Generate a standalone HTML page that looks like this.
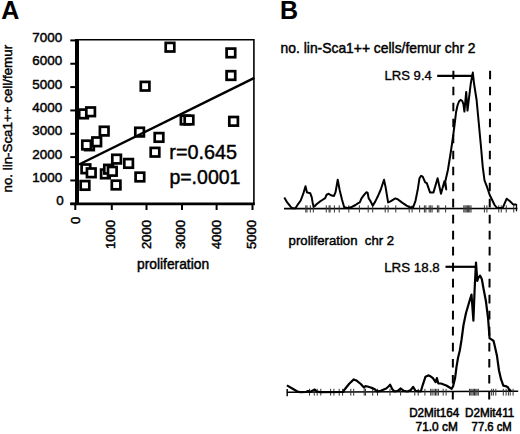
<!DOCTYPE html>
<html><head><meta charset="utf-8"><style>
html,body{margin:0;padding:0;background:#fff;}
body{width:520px;height:434px;overflow:hidden;font-family:"Liberation Sans",sans-serif;}
svg{display:block;} text{stroke:#000;stroke-width:0.45px;}
</style></head><body>
<svg width="520" height="434" viewBox="0 0 520 434">
<rect width="520" height="434" fill="#fff"/>
<text x="1.2" y="19.3" font-family="&#39;Liberation Sans&#39;, sans-serif" font-weight="bold" font-size="25" style="stroke-width:0.1px">A</text>
<text x="279.9" y="18.9" font-family="&#39;Liberation Sans&#39;, sans-serif" font-weight="bold" font-size="25" style="stroke-width:0.1px">B</text>
<line x1="75" y1="39.7" x2="254" y2="39.7" stroke="#000" stroke-width="1.4"/>
<line x1="253.9" y1="39" x2="253.9" y2="205" stroke="#000" stroke-width="1.6"/>
<line x1="77" y1="39" x2="77" y2="205" stroke="#000" stroke-width="4"/>
<line x1="70.3" y1="203.8" x2="254.7" y2="203.8" stroke="#000" stroke-width="2.7"/>
<line x1="70.3" y1="203.80" x2="76" y2="203.80" stroke="#000" stroke-width="2"/>
<line x1="70.3" y1="180.46" x2="76" y2="180.46" stroke="#000" stroke-width="2"/>
<line x1="70.3" y1="157.12" x2="76" y2="157.12" stroke="#000" stroke-width="2"/>
<line x1="70.3" y1="133.78" x2="76" y2="133.78" stroke="#000" stroke-width="2"/>
<line x1="70.3" y1="110.44" x2="76" y2="110.44" stroke="#000" stroke-width="2"/>
<line x1="70.3" y1="87.10" x2="76" y2="87.10" stroke="#000" stroke-width="2"/>
<line x1="70.3" y1="63.76" x2="76" y2="63.76" stroke="#000" stroke-width="2"/>
<line x1="70.3" y1="40.42" x2="76" y2="40.42" stroke="#000" stroke-width="2"/>
<line x1="75.3" y1="204" x2="75.3" y2="210" stroke="#000" stroke-width="2"/>
<line x1="111.8" y1="204" x2="111.8" y2="210" stroke="#000" stroke-width="2"/>
<line x1="146.5" y1="204" x2="146.5" y2="210" stroke="#000" stroke-width="2"/>
<line x1="182" y1="204" x2="182" y2="210" stroke="#000" stroke-width="2"/>
<line x1="216.6" y1="204" x2="216.6" y2="210" stroke="#000" stroke-width="2"/>
<line x1="252.5" y1="204" x2="252.5" y2="210" stroke="#000" stroke-width="2"/>
<text x="63.8" y="205.10" font-family="&#39;Liberation Sans&#39;, sans-serif" font-size="13.4" text-anchor="end">0</text>
<text x="62.1" y="181.86" font-family="&#39;Liberation Sans&#39;, sans-serif" font-size="13.4" text-anchor="end">1000</text>
<text x="62.1" y="158.52" font-family="&#39;Liberation Sans&#39;, sans-serif" font-size="13.4" text-anchor="end">2000</text>
<text x="62.1" y="135.18" font-family="&#39;Liberation Sans&#39;, sans-serif" font-size="13.4" text-anchor="end">3000</text>
<text x="62.1" y="111.84" font-family="&#39;Liberation Sans&#39;, sans-serif" font-size="13.4" text-anchor="end">4000</text>
<text x="62.1" y="88.50" font-family="&#39;Liberation Sans&#39;, sans-serif" font-size="13.4" text-anchor="end">5000</text>
<text x="62.1" y="65.16" font-family="&#39;Liberation Sans&#39;, sans-serif" font-size="13.4" text-anchor="end">6000</text>
<text x="62.1" y="41.82" font-family="&#39;Liberation Sans&#39;, sans-serif" font-size="13.4" text-anchor="end">7000</text>
<text transform="translate(80.30,216.8) rotate(-90)" font-family="&#39;Liberation Sans&#39;, sans-serif" font-size="13.1" text-anchor="end">0</text>
<text transform="translate(114.90,219.9) rotate(-90)" font-family="&#39;Liberation Sans&#39;, sans-serif" font-size="13.1" text-anchor="end">1000</text>
<text transform="translate(151.10,219.9) rotate(-90)" font-family="&#39;Liberation Sans&#39;, sans-serif" font-size="13.1" text-anchor="end">2000</text>
<text transform="translate(185.20,219.9) rotate(-90)" font-family="&#39;Liberation Sans&#39;, sans-serif" font-size="13.1" text-anchor="end">3000</text>
<text transform="translate(221.40,219.9) rotate(-90)" font-family="&#39;Liberation Sans&#39;, sans-serif" font-size="13.1" text-anchor="end">4000</text>
<text transform="translate(256.20,219.9) rotate(-90)" font-family="&#39;Liberation Sans&#39;, sans-serif" font-size="13.1" text-anchor="end">5000</text>
<text x="137" y="268.8" font-family="&#39;Liberation Sans&#39;, sans-serif" font-size="13.8">proliferation</text>
<text transform="translate(12.2,192.5) rotate(-90)" font-family="&#39;Liberation Sans&#39;, sans-serif" font-size="13.35">no. lin-Sca1++ cell/femur</text>
<rect x="165.70" y="42.90" width="8.6" height="8.6" fill="#fff" stroke="#000" stroke-width="2.7"/>
<rect x="226.60" y="48.60" width="8.6" height="8.6" fill="#fff" stroke="#000" stroke-width="2.7"/>
<rect x="226.60" y="71.20" width="8.6" height="8.6" fill="#fff" stroke="#000" stroke-width="2.7"/>
<rect x="140.80" y="81.90" width="8.6" height="8.6" fill="#fff" stroke="#000" stroke-width="2.7"/>
<rect x="79.20" y="109.60" width="8.6" height="8.6" fill="#fff" stroke="#000" stroke-width="2.7"/>
<rect x="86.30" y="107.50" width="8.6" height="8.6" fill="#fff" stroke="#000" stroke-width="2.7"/>
<rect x="180.90" y="115.70" width="8.6" height="8.6" fill="#fff" stroke="#000" stroke-width="2.7"/>
<rect x="184.70" y="115.70" width="8.6" height="8.6" fill="#fff" stroke="#000" stroke-width="2.7"/>
<rect x="229.30" y="117.00" width="8.6" height="8.6" fill="#fff" stroke="#000" stroke-width="2.7"/>
<rect x="99.90" y="126.80" width="8.6" height="8.6" fill="#fff" stroke="#000" stroke-width="2.7"/>
<rect x="135.30" y="127.80" width="8.6" height="8.6" fill="#fff" stroke="#000" stroke-width="2.7"/>
<rect x="85.20" y="141.50" width="8.6" height="8.6" fill="#fff" stroke="#000" stroke-width="2.7"/>
<rect x="82.30" y="140.70" width="8.6" height="8.6" fill="#fff" stroke="#000" stroke-width="2.7"/>
<rect x="92.40" y="137.50" width="8.6" height="8.6" fill="#fff" stroke="#000" stroke-width="2.7"/>
<rect x="154.70" y="133.10" width="8.6" height="8.6" fill="#fff" stroke="#000" stroke-width="2.7"/>
<rect x="150.70" y="147.90" width="8.6" height="8.6" fill="#fff" stroke="#000" stroke-width="2.7"/>
<rect x="112.30" y="154.80" width="8.6" height="8.6" fill="#fff" stroke="#000" stroke-width="2.7"/>
<rect x="124.30" y="159.10" width="8.6" height="8.6" fill="#fff" stroke="#000" stroke-width="2.7"/>
<rect x="81.60" y="164.50" width="8.6" height="8.6" fill="#fff" stroke="#000" stroke-width="2.7"/>
<rect x="86.95" y="168.50" width="8.6" height="8.6" fill="#fff" stroke="#000" stroke-width="2.7"/>
<rect x="101.10" y="169.60" width="8.6" height="8.6" fill="#fff" stroke="#000" stroke-width="2.7"/>
<rect x="104.30" y="164.90" width="8.6" height="8.6" fill="#fff" stroke="#000" stroke-width="2.7"/>
<rect x="108.00" y="167.00" width="8.6" height="8.6" fill="#fff" stroke="#000" stroke-width="2.7"/>
<rect x="135.60" y="172.70" width="8.6" height="8.6" fill="#fff" stroke="#000" stroke-width="2.7"/>
<rect x="80.70" y="181.10" width="8.6" height="8.6" fill="#fff" stroke="#000" stroke-width="2.7"/>
<rect x="111.80" y="180.70" width="8.6" height="8.6" fill="#fff" stroke="#000" stroke-width="2.7"/>
<line x1="79" y1="164.5" x2="254.4" y2="77.8" stroke="#000" stroke-width="2.5"/>
<text x="169.3" y="159.2" font-family="&#39;Liberation Sans&#39;, sans-serif" font-size="19.8">r=0.645</text>
<text x="169.4" y="183.5" font-family="&#39;Liberation Sans&#39;, sans-serif" font-size="19.5">p=.0001</text>
<text x="280.6" y="52.7" font-family="&#39;Liberation Sans&#39;, sans-serif" font-size="14.2" textLength="195" lengthAdjust="spacingAndGlyphs">no. lin-Sca1++ cells/femur chr 2</text>
<text x="288.6" y="245" font-family="&#39;Liberation Sans&#39;, sans-serif" font-size="13.2" xml:space="preserve">proliferation  chr 2</text>
<text x="384.5" y="80.2" font-family="&#39;Liberation Sans&#39;, sans-serif" font-size="13.1" textLength="47.3" lengthAdjust="spacingAndGlyphs" style="stroke-width:0.35px">LRS 9.4</text>
<text x="384.2" y="272.2" font-family="&#39;Liberation Sans&#39;, sans-serif" font-size="13.3" textLength="55.6" lengthAdjust="spacingAndGlyphs" style="stroke-width:0.35px">LRS 18.8</text>
<line x1="437.2" y1="75.9" x2="472.6" y2="75.9" stroke="#000" stroke-width="2.2"/>
<line x1="445.5" y1="266.8" x2="476" y2="266.8" stroke="#000" stroke-width="2.2"/>
<line x1="453.4" y1="70.7" x2="452.8" y2="402" stroke="#000" stroke-width="2" stroke-dasharray="8.6 7.41"/>
<line x1="490.1" y1="70.7" x2="489.2" y2="402" stroke="#000" stroke-width="2" stroke-dasharray="8.6 7.41"/>
<line x1="284" y1="208.6" x2="517.4" y2="208.5" stroke="#000" stroke-width="1.6"/>
<line x1="286.8" y1="392.3" x2="518.2" y2="391.2" stroke="#000" stroke-width="1.6"/>
<line x1="305.8" y1="205.3" x2="305.8" y2="212.5" stroke="#333" stroke-width="1"/>
<line x1="307" y1="205.3" x2="307" y2="212.5" stroke="#333" stroke-width="1"/>
<line x1="310.3" y1="205.3" x2="310.3" y2="212.5" stroke="#333" stroke-width="1"/>
<line x1="313.3" y1="205.3" x2="313.3" y2="212.5" stroke="#333" stroke-width="1"/>
<line x1="326.25" y1="205.3" x2="326.25" y2="212.5" stroke="#333" stroke-width="1"/>
<line x1="329.1" y1="205.3" x2="329.1" y2="212.5" stroke="#333" stroke-width="1"/>
<line x1="330.1" y1="205.3" x2="330.1" y2="212.5" stroke="#333" stroke-width="1"/>
<line x1="334.4" y1="205.3" x2="334.4" y2="212.5" stroke="#333" stroke-width="1"/>
<line x1="339.2" y1="205.3" x2="339.2" y2="212.5" stroke="#333" stroke-width="1"/>
<line x1="348.8" y1="205.3" x2="348.8" y2="212.5" stroke="#333" stroke-width="1"/>
<line x1="359.4" y1="205.3" x2="359.4" y2="212.5" stroke="#333" stroke-width="1"/>
<line x1="368.2" y1="205.3" x2="368.2" y2="212.5" stroke="#333" stroke-width="1"/>
<line x1="372.7" y1="205.3" x2="372.7" y2="212.5" stroke="#333" stroke-width="1"/>
<line x1="385.2" y1="205.3" x2="385.2" y2="212.5" stroke="#333" stroke-width="1"/>
<line x1="388.1" y1="205.3" x2="388.1" y2="212.5" stroke="#333" stroke-width="1"/>
<line x1="395.8" y1="205.3" x2="395.8" y2="212.5" stroke="#333" stroke-width="1"/>
<line x1="409.2" y1="205.3" x2="409.2" y2="212.5" stroke="#333" stroke-width="1"/>
<line x1="412.1" y1="205.3" x2="412.1" y2="212.5" stroke="#333" stroke-width="1"/>
<line x1="419.6" y1="205.3" x2="419.6" y2="212.5" stroke="#333" stroke-width="1"/>
<line x1="424.4" y1="205.3" x2="424.4" y2="212.5" stroke="#333" stroke-width="1"/>
<line x1="425.9" y1="205.3" x2="425.9" y2="212.5" stroke="#333" stroke-width="1"/>
<line x1="429.2" y1="205.3" x2="429.2" y2="212.5" stroke="#333" stroke-width="1"/>
<line x1="430.7" y1="205.3" x2="430.7" y2="212.5" stroke="#333" stroke-width="1"/>
<line x1="432.1" y1="205.3" x2="432.1" y2="212.5" stroke="#333" stroke-width="1"/>
<line x1="437.4" y1="205.3" x2="437.4" y2="212.5" stroke="#333" stroke-width="1"/>
<line x1="438.8" y1="205.3" x2="438.8" y2="212.5" stroke="#333" stroke-width="1"/>
<line x1="445.6" y1="205.3" x2="445.6" y2="212.5" stroke="#333" stroke-width="1"/>
<line x1="463.8" y1="205.3" x2="463.8" y2="212.5" stroke="#333" stroke-width="1"/>
<line x1="465" y1="205.3" x2="465" y2="212.5" stroke="#333" stroke-width="1"/>
<line x1="466.2" y1="205.3" x2="466.2" y2="212.5" stroke="#333" stroke-width="1"/>
<line x1="467.4" y1="205.3" x2="467.4" y2="212.5" stroke="#333" stroke-width="1"/>
<line x1="468.6" y1="205.3" x2="468.6" y2="212.5" stroke="#333" stroke-width="1"/>
<line x1="469.8" y1="205.3" x2="469.8" y2="212.5" stroke="#333" stroke-width="1"/>
<line x1="471" y1="205.3" x2="471" y2="212.5" stroke="#333" stroke-width="1"/>
<line x1="484.4" y1="205.3" x2="484.4" y2="212.5" stroke="#333" stroke-width="1"/>
<line x1="486.9" y1="205.3" x2="486.9" y2="212.5" stroke="#333" stroke-width="1"/>
<line x1="498.75" y1="205.3" x2="498.75" y2="212.5" stroke="#333" stroke-width="1"/>
<line x1="501.25" y1="205.3" x2="501.25" y2="212.5" stroke="#333" stroke-width="1"/>
<line x1="506.25" y1="205.3" x2="506.25" y2="212.5" stroke="#333" stroke-width="1"/>
<line x1="513.75" y1="205.3" x2="513.75" y2="212.5" stroke="#333" stroke-width="1"/>
<line x1="309.5" y1="388.8" x2="309.5" y2="395.6" stroke="#333" stroke-width="1"/>
<line x1="314.3" y1="388.8" x2="314.3" y2="395.6" stroke="#333" stroke-width="1"/>
<line x1="317.2" y1="388.8" x2="317.2" y2="395.6" stroke="#333" stroke-width="1"/>
<line x1="320.8" y1="388.8" x2="320.8" y2="395.6" stroke="#333" stroke-width="1"/>
<line x1="330.6" y1="388.8" x2="330.6" y2="395.6" stroke="#333" stroke-width="1"/>
<line x1="333.9" y1="388.8" x2="333.9" y2="395.6" stroke="#333" stroke-width="1"/>
<line x1="339.2" y1="388.8" x2="339.2" y2="395.6" stroke="#333" stroke-width="1"/>
<line x1="342.6" y1="388.8" x2="342.6" y2="395.6" stroke="#333" stroke-width="1"/>
<line x1="350.8" y1="388.8" x2="350.8" y2="395.6" stroke="#333" stroke-width="1"/>
<line x1="353.7" y1="388.8" x2="353.7" y2="395.6" stroke="#333" stroke-width="1"/>
<line x1="364.2" y1="388.8" x2="364.2" y2="395.6" stroke="#333" stroke-width="1"/>
<line x1="365.5" y1="388.8" x2="365.5" y2="395.6" stroke="#333" stroke-width="1"/>
<line x1="372.7" y1="388.8" x2="372.7" y2="395.6" stroke="#333" stroke-width="1"/>
<line x1="377.5" y1="388.8" x2="377.5" y2="395.6" stroke="#333" stroke-width="1"/>
<line x1="390" y1="388.8" x2="390" y2="395.6" stroke="#333" stroke-width="1"/>
<line x1="400.6" y1="388.8" x2="400.6" y2="395.6" stroke="#333" stroke-width="1"/>
<line x1="414.8" y1="388.8" x2="414.8" y2="395.6" stroke="#333" stroke-width="1"/>
<line x1="418.2" y1="388.8" x2="418.2" y2="395.6" stroke="#333" stroke-width="1"/>
<line x1="424.9" y1="388.8" x2="424.9" y2="395.6" stroke="#333" stroke-width="1"/>
<line x1="430.7" y1="388.8" x2="430.7" y2="395.6" stroke="#333" stroke-width="1"/>
<line x1="432.1" y1="388.8" x2="432.1" y2="395.6" stroke="#333" stroke-width="1"/>
<line x1="434" y1="388.8" x2="434" y2="395.6" stroke="#333" stroke-width="1"/>
<line x1="435.5" y1="388.8" x2="435.5" y2="395.6" stroke="#333" stroke-width="1"/>
<line x1="436.9" y1="388.8" x2="436.9" y2="395.6" stroke="#333" stroke-width="1"/>
<line x1="438.4" y1="388.8" x2="438.4" y2="395.6" stroke="#333" stroke-width="1"/>
<line x1="443.2" y1="388.8" x2="443.2" y2="395.6" stroke="#333" stroke-width="1"/>
<line x1="446.1" y1="388.8" x2="446.1" y2="395.6" stroke="#333" stroke-width="1"/>
<line x1="469.5" y1="388.8" x2="469.5" y2="395.6" stroke="#333" stroke-width="1"/>
<line x1="470.8" y1="388.8" x2="470.8" y2="395.6" stroke="#333" stroke-width="1"/>
<line x1="472" y1="388.8" x2="472" y2="395.6" stroke="#333" stroke-width="1"/>
<line x1="473.3" y1="388.8" x2="473.3" y2="395.6" stroke="#333" stroke-width="1"/>
<line x1="474.5" y1="388.8" x2="474.5" y2="395.6" stroke="#333" stroke-width="1"/>
<line x1="475.8" y1="388.8" x2="475.8" y2="395.6" stroke="#333" stroke-width="1"/>
<line x1="477" y1="388.8" x2="477" y2="395.6" stroke="#333" stroke-width="1"/>
<line x1="478.3" y1="388.8" x2="478.3" y2="395.6" stroke="#333" stroke-width="1"/>
<line x1="491.7" y1="388.8" x2="491.7" y2="395.6" stroke="#333" stroke-width="1"/>
<line x1="493.4" y1="388.8" x2="493.4" y2="395.6" stroke="#333" stroke-width="1"/>
<line x1="495.8" y1="388.8" x2="495.8" y2="395.6" stroke="#333" stroke-width="1"/>
<line x1="503.3" y1="388.8" x2="503.3" y2="395.6" stroke="#333" stroke-width="1"/>
<line x1="506.1" y1="388.8" x2="506.1" y2="395.6" stroke="#333" stroke-width="1"/>
<line x1="508.4" y1="388.8" x2="508.4" y2="395.6" stroke="#333" stroke-width="1"/>
<line x1="510.2" y1="388.8" x2="510.2" y2="395.6" stroke="#333" stroke-width="1"/>
<line x1="513.1" y1="388.8" x2="513.1" y2="395.6" stroke="#333" stroke-width="1"/>
<line x1="287.2" y1="389" x2="287.2" y2="396.2" stroke="#000" stroke-width="1.4"/>
<line x1="516.5" y1="204" x2="516.5" y2="211.3" stroke="#000" stroke-width="1.3"/>
<polyline points="284.3,197.6 287.2,202.4 290.6,206.7 292.5,208.2 295.4,208.2 298.3,203.8 300.7,200.5 303.1,194.2 305.5,186.3 306.9,192.3 308.4,192.8 310.3,193.3 311.7,197.1 312.7,202.9 313.7,206.7 315.1,205.8 316.5,204.3 319.4,201.9 322.3,200.0 325.2,198.1 326.6,194.7 328.8,193.8 330.8,195.2 334.0,196.0 335.6,191.9 337.7,179.8 339.7,190.3 342.1,200.0 344.2,207.3 347.7,208.0 351.0,207.3 355.5,205.0 358.2,203.2 359.8,202.4 361.5,198.4 363.9,195.2 366.3,192.3 367.6,192.7 368.7,198.4 370.3,200.8 372.7,205.6 375.2,201.6 377.6,196.8 380.8,189.5 384.0,179.8 385.6,187.1 388.1,202.4 390.5,201.3 395.3,198.4 397.7,199.2 401.8,202.4 406.6,205.6 409.8,207.3 413.1,207.3 415.5,200.8 417.9,188.7 419.5,178.2 421.1,175.8 422.7,176.6 425.2,182.3 426.8,183.1 430.0,192.4 433.5,192.4 437.6,178.3 441.0,193.8 444.4,181.3 446.3,189.5 445.3,181.5 447.9,170.0 450.8,152.0 453.0,137.0 454.9,122.0 456.1,112.0 457.5,105.5 459.0,101.5 460.6,99.9 462.3,101.0 463.5,104.5 464.4,111.6 466.2,91.9 467.5,110.6 470.7,84.0 472.8,72.6 474.1,84.0 476.6,100.0 478.3,118.0 481.1,148.0 482.8,167.3 484.5,180.3 487.1,187.2 489.7,195.0 492.3,200.2 494.6,205.0 496.9,207.9 502.7,207.9 506.7,198.7 510.0,201.2 513.1,204.4 516.4,204.4" fill="none" stroke="#000" stroke-width="2" stroke-linejoin="round"/>
<polyline points="286.9,385.4 292.3,388.5 296.9,391.2 300.3,392.2 306.0,392.0 308.0,391.0 310.0,392.0 312.8,390.5 314.8,389.6 316.7,391.5 320.0,392.1 343.5,391.9 344.0,390.3 349.2,383.8 353.8,379.4 356.9,380.8 360.8,384.0 364.0,387.6 365.3,386.2 367.5,386.5 370.0,387.3 372.3,388.1 374.6,389.2 377.0,391.3 380.8,390.8 386.2,388.5 389.0,386.0 390.1,384.6 392.3,389.2 394.6,391.5 397.7,390.8 400.8,388.5 403.8,390.8 407.7,391.5 410.8,390.0 413.1,386.9 415.4,390.8 420.8,391.5 422.8,384.8 425.5,376.7 428.2,375.4 430.2,376.1 432.9,378.1 435.6,382.1 436.9,378.1 438.3,383.5 441.0,383.5 446.3,385.5 451.7,388.8 453.1,386.2 455.1,378.1 456.5,366.9 458.0,358.0 459.8,350.5 461.5,340.0 463.5,325.0 466.0,313.0 467.7,307.3 469.5,301.0 471.5,294.6 473.4,320.6 474.6,290.0 475.5,272.0 476.0,262.5 477.3,281.0 478.2,278.0 480.0,275.6 481.8,279.0 483.5,288.5 485.9,301.0 488.1,318.6 489.6,338.3 491.4,339.4 493.6,341.0 495.0,347.0 496.9,355.4 499.0,370.5 501.0,379.2 503.3,385.6 505.6,386.1 507.9,387.3 509.6,390.2 511.3,391.0" fill="none" stroke="#000" stroke-width="2.2" stroke-linejoin="round"/>
<text x="409.2" y="416.7" font-family="&#39;Liberation Sans&#39;, sans-serif" font-size="12.6" textLength="50" lengthAdjust="spacingAndGlyphs" style="stroke-width:0.55px">D2Mit164</text>
<text x="465.0" y="416.7" font-family="&#39;Liberation Sans&#39;, sans-serif" font-size="12.6" textLength="49.3" lengthAdjust="spacingAndGlyphs" style="stroke-width:0.55px">D2Mit411</text>
<text x="415.6" y="430.6" font-family="&#39;Liberation Sans&#39;, sans-serif" font-size="12.6" textLength="42.2" lengthAdjust="spacingAndGlyphs" style="stroke-width:0.55px">71.0 cM</text>
<text x="471.6" y="430.6" font-family="&#39;Liberation Sans&#39;, sans-serif" font-size="12.6" textLength="40.2" lengthAdjust="spacingAndGlyphs" style="stroke-width:0.55px">77.6 cM</text>
</svg>
</body></html>
